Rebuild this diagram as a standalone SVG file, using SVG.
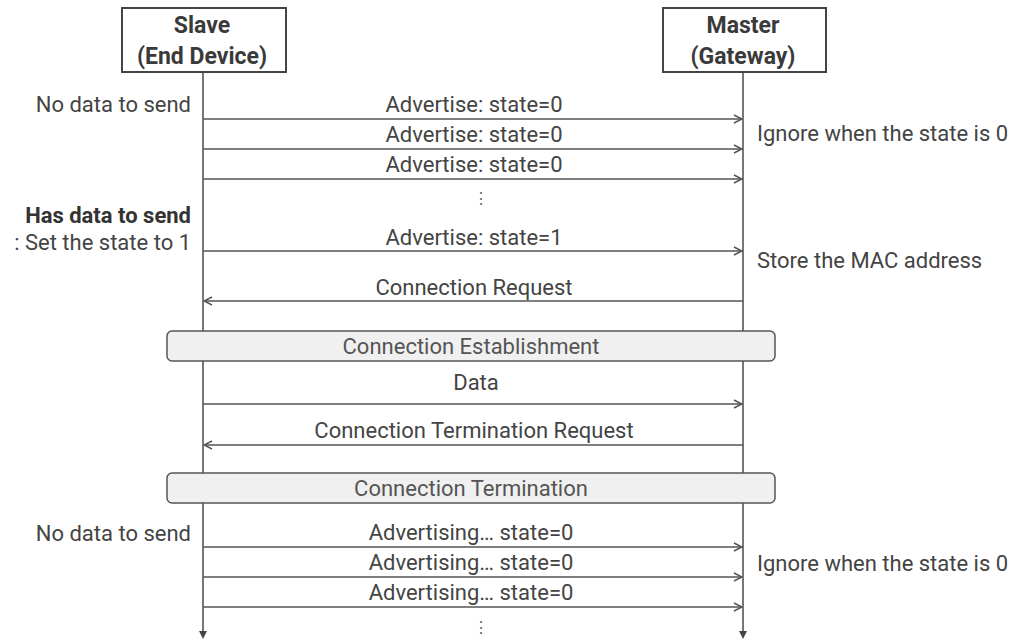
<svg xmlns="http://www.w3.org/2000/svg" width="1019" height="643" viewBox="0 0 1019 643">
  <style>
    text { font-family: Roboto, "Liberation Sans", sans-serif; font-size: 22px; fill: #444444; }
    .c { text-anchor: middle; }
    .r { text-anchor: end; }
    .b { font-weight: bold; fill: #333333; }
    .hd { font-weight: bold; font-size: 23px; text-anchor: middle; fill: #3a3a3a; }
    .ph { fill: #555555; }
    .dots { font-size: 16px; text-anchor: middle; fill: #666666; }
    .actor { fill: #ffffff; stroke: #444; stroke-width: 2; }
    .life { stroke: #555; stroke-width: 1.6; fill: none; }
    .msg { stroke: #555; stroke-width: 1.5; fill: none; }
    .phase { fill: #f0f0f0; stroke: #555; stroke-width: 1.5; }
  </style>
  <defs>
    <marker id="open" viewBox="0 0 10 10" refX="9" refY="5" markerWidth="10" markerHeight="10" markerUnits="userSpaceOnUse" orient="auto">
      <path d="M1,1 L9,5 L1,9" fill="none" stroke="#555" stroke-width="1.5"/>
    </marker>
  </defs>

  <!-- lifelines -->
  <g id="lifelines">
    <line class="life" x1="203" y1="72" x2="203" y2="632"/>
    <path d="M199,631 L207,631 L203,639 Z" fill="#444"/>
    <line class="life" x1="743" y1="72" x2="743" y2="632"/>
    <path d="M739,631 L747,631 L743,639 Z" fill="#444"/>
  </g>

  <!-- participants -->
  <g id="slave">
    <rect class="actor" x="122" y="8" width="164" height="64"/>
    <text class="hd" x="202" y="33">Slave</text>
    <text class="hd" x="202" y="64">(End Device)</text>
  </g>
  <g id="master">
    <rect class="actor" x="663" y="8" width="163" height="64"/>
    <text class="hd" x="743" y="33">Master</text>
    <text class="hd" x="743" y="64">(Gateway)</text>
  </g>

  <!-- phases -->
  <g id="establishment">
    <rect class="phase" x="167" y="331" width="608" height="30" rx="5"/>
    <text class="c ph" x="471" y="354">Connection Establishment</text>
  </g>
  <g id="termination">
    <rect class="phase" x="167" y="473" width="608" height="30" rx="5"/>
    <text class="c ph" x="471" y="496">Connection Termination</text>
  </g>

  <!-- messages -->
  <g id="connectors">
    <line class="msg" x1="203" y1="119" x2="742" y2="119" marker-end="url(#open)"/>
    <line class="msg" x1="203" y1="149" x2="742" y2="149" marker-end="url(#open)"/>
    <line class="msg" x1="203" y1="179" x2="742" y2="179" marker-end="url(#open)"/>
    <line class="msg" x1="203" y1="251" x2="742" y2="251" marker-end="url(#open)"/>
    <line class="msg" x1="743" y1="301" x2="204" y2="301" marker-end="url(#open)"/>
    <line class="msg" x1="203" y1="404" x2="742" y2="404" marker-end="url(#open)"/>
    <line class="msg" x1="743" y1="445" x2="204" y2="445" marker-end="url(#open)"/>
    <line class="msg" x1="203" y1="547" x2="742" y2="547" marker-end="url(#open)"/>
    <line class="msg" x1="203" y1="577" x2="742" y2="577" marker-end="url(#open)"/>
    <line class="msg" x1="203" y1="607" x2="742" y2="607" marker-end="url(#open)"/>
  </g>

  <!-- message labels -->
  <g id="labels">
    <text class="c" x="474" y="112">Advertise: state=0</text>
    <text class="c" x="474" y="142">Advertise: state=0</text>
    <text class="c" x="474" y="172">Advertise: state=0</text>
    <text class="dots" x="481" y="204">⋮</text>
    <text class="c" x="474" y="245">Advertise: state=1</text>
    <text class="c" x="474" y="295">Connection Request</text>
    <text class="c" x="476" y="390">Data</text>
    <text class="c" x="474" y="438">Connection Termination Request</text>
    <text class="c" x="471" y="540">Advertising… state=0</text>
    <text class="c" x="471" y="570">Advertising… state=0</text>
    <text class="c" x="471" y="600">Advertising… state=0</text>
    <text class="dots" x="481" y="633">⋮</text>
  </g>

  <!-- side notes -->
  <g id="notes">
    <text class="r" x="191" y="112">No data to send</text>
    <text class="r b" x="191" y="223">Has data to send</text>
    <text class="r" x="191" y="250">: Set the state to 1</text>
    <text class="r" x="191" y="541">No data to send</text>
    <text x="757" y="141">Ignore when the state is 0</text>
    <text x="757" y="268">Store the MAC address</text>
    <text x="757" y="571">Ignore when the state is 0</text>
  </g>
</svg>
